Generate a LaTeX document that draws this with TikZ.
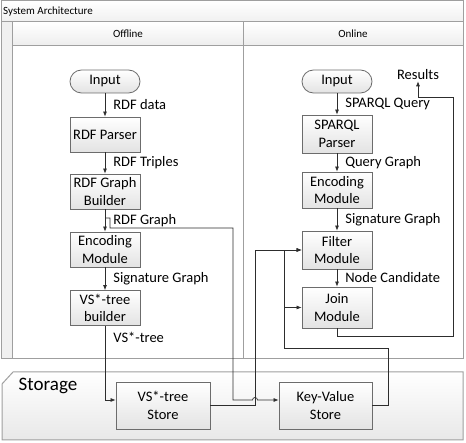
\documentclass[tikz,border=0pt]{standalone}
\usepackage{fontspec}
\setmainfont{Carlito}
\usetikzlibrary{arrows.meta}

\begin{document}
\begin{tikzpicture}[x=1pt, y=-1pt,
    box/.style={draw=gray!85!black, line width=0.8pt, top color=white, bottom color=gray!22,
      minimum width=70pt, minimum height=35pt, inner sep=1pt, align=center,
      font=\fontsize{14.5}{17.5}\selectfont},
    term/.style={box, rounded corners=11.5pt, minimum height=23pt},
    lbl/.style={anchor=west, xshift=6pt, inner sep=2pt, font=\fontsize{14.5}{17.5}\selectfont},
    conn/.style={draw=gray!35!black, line width=0.7pt, -{Latex[length=5pt,width=4pt]}},
    frame/.style={draw=gray!75, line width=1pt}]
   \useasboundingbox (0,0) rectangle (466,443);

   % frames
   \fill[gray!12] (1,1) rectangle (463,359);
   \shade[top color=white, bottom color=gray!12] (1,1) rectangle (463,22);
   \fill[white] (12,46) rectangle (463,359);
   \shade[top color=white, bottom color=gray!14] (12,22) rectangle (463,46);
   \draw[frame] (1,1) rectangle (463,359);
   \draw[frame] (1,22) -- (463,22);
   \draw[frame] (12,46) -- (463,46);
   \draw[frame] (12,22) -- (12,359);
   \draw[frame] (243,22) -- (243,359);
   \shade[top color=white, bottom color=gray!18, draw=gray!75, line width=1pt]
     (13,372) -- (463,372) -- (463,440) -- (2,440) -- (2,384) -- cycle;

   \begin{scope}[every node/.style={font=\fontsize{11}{13}\selectfont}]
    \node[anchor=west, inner sep=0pt] (title) at (3,12) {System Architecture};
    \node (offl) at (128,34) {Offline};
    \node (onl) at (353,34) {Online};
   \end{scope}
   \node[font=\fontsize{19}{22}\selectfont] (stor) at (48,386) {Storage};

   % offline nodes
   \node[term] (inL) at (105,81.5) {Input};
   \node[box] (rdfp) at (105,134.5) {RDF Parser};
   \node[box] (gbuild) at (105,191.5) {RDF Graph\\Builder};
   \node[box] (encL) at (105,249.5) {Encoding\\Module};
   \node[box] (vsb) at (105,308) {VS*-tree\\builder};
   \node[box, minimum width=94pt, minimum height=47pt] (vss) at (163,405.5) {VS*-tree\\Store};

   % online nodes
   \node[term] (inR) at (337,81.5) {Input};
   \node[box, minimum height=38pt] (sparql) at (337,134) {SPARQL\\Parser};
   \node[box, minimum height=36pt] (encR) at (337,190) {Encoding\\Module};
   \node[box, minimum height=38pt] (filter) at (337,250) {Filter\\Module};
   \node[box, minimum height=41pt] (join) at (337,307.5) {Join\\Module};
   \node[box, minimum width=93pt, minimum height=47pt] (kvs) at (325.5,405.5) {Key-Value\\Store};
   \node[font=\fontsize{14.5}{17.5}\selectfont, inner sep=1pt] (res) at (418,75) {Results};

   \coordinate (g1) at (105,218);
   \coordinate (vsin) at ([yshift=5.5pt]vss.west);
   \coordinate (kvin) at ([yshift=5.5pt]kvs.west);
   \coordinate (kvx) at (284,348);
   \coordinate (rb) at (453,336);
   \coordinate (rt) at (453,97);

   \begin{scope}[every path/.style={conn}]
    \draw (inL) -- node[lbl]{RDF data} (rdfp);
    \draw (rdfp) -- node[lbl]{RDF Triples} (gbuild);
    \draw (gbuild) -- node[lbl]{RDF Graph} (encL);
    \draw (encL) -- node[lbl]{Signature Graph} (vsb);
    \draw (vsb) |- node[lbl, pos=0.08]{VS*-tree} (vsin);
    \draw (g1) -- (110,218) -- (110,228) -- (233,228) -- (233,400) -- (252.5,400)
      arc (180:0:2.5pt) -- (kvin);
    \draw (vss.east) -- (255,405.5) -- (255,250) -- (filter.west);
    \draw (kvs.east) -- (388,405.5) -- (388,348) -- (kvx) -- (284,250) -- (filter.west);
    \draw (join.west -| kvx) -- (join.west);

    \draw (inR) -- node[lbl]{SPARQL Query} (sparql);
    \draw (sparql) -- node[lbl]{Query Graph} (encR);
    \draw (encR) -- node[lbl]{Signature Graph} (filter);
    \draw (filter) -- node[lbl]{Node Candidate} (join);
    \draw (join.south) |- (rb) -- (rt) -| (res.south);
   \end{scope}
\end{tikzpicture}
\end{document}
